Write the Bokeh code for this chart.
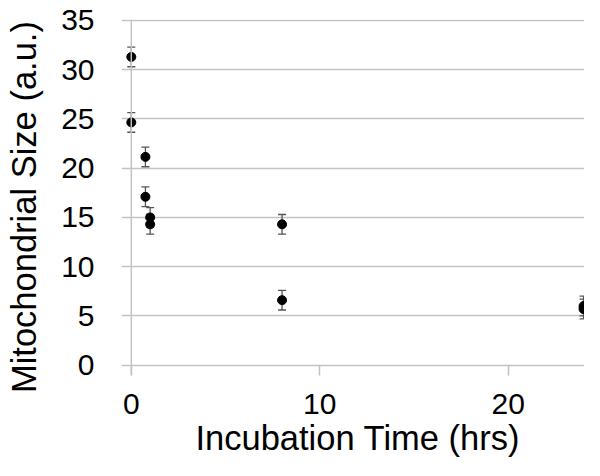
from bokeh.plotting import figure
from bokeh.models import Range1d, FixedTicker, ColumnDataSource, Whisker, TeeHead, Span
from bokeh.embed import file_html
from bokeh.resources import INLINE

# Data
hours = [0, 0, 0.75, 0.75, 1, 1, 8, 8, 24, 24]
size = [31.3, 24.65, 21.15, 17.1, 15.0, 14.3, 14.3, 6.6, 6.0, 5.7]
err = [1.0, 1.0, 1.0, 1.0, 1.0, 1.0, 1.0, 1.0, 1.0, 1.0]
x_ticks = [0, 10, 20]
y_ticks = [0, 5, 10, 15, 20, 25, 30, 35]
x_title = "Incubation Time (hrs)"
y_title = "Mitochondrial Size (a.u.)"

FONT = "Liberation Sans"
GRID = "#c3c3c3"
NBSP = "\u00a0"

p = figure(width=584, height=460, output_backend="svg", toolbar_location=None,
           x_range=Range1d(-0.52, 24.05), y_range=Range1d(-1.05, 35.1),
           min_border_left=121, min_border_right=0, min_border_top=19, min_border_bottom=85)
p.outline_line_color = None
p.background_fill_color = "white"
p.border_fill_color = "white"

# grid
p.xgrid.visible = False
p.ygrid.ticker = FixedTicker(ticks=y_ticks)
p.ygrid.grid_line_color = GRID
p.ygrid.grid_line_width = 1.5

# y axis
p.yaxis.ticker = FixedTicker(ticks=y_ticks)
p.yaxis.axis_line_color = None
p.yaxis.major_tick_line_color = None
p.yaxis.minor_tick_line_color = None
p.yaxis.major_tick_out = 0
p.yaxis.major_tick_in = 0
p.yaxis.major_label_standoff = 27
p.yaxis.major_label_text_font = FONT
p.yaxis.major_label_text_font_size = "30px"
p.yaxis.major_label_text_color = "black"
# trailing no-break spaces shift the centred title slightly downwards, as in the reference
p.yaxis.axis_label = y_title + NBSP * 2
p.yaxis.axis_label_text_font = FONT
p.yaxis.axis_label_text_font_size = "34.5px"
p.yaxis.axis_label_text_font_style = "normal"
p.yaxis.axis_label_text_color = "black"
p.yaxis.axis_label_standoff = 15

# x axis
p.xaxis.ticker = FixedTicker(ticks=x_ticks)
p.xaxis.axis_line_color = None
p.xaxis.major_tick_line_color = GRID
p.xaxis.major_tick_line_width = 1.5
p.xaxis.minor_tick_line_color = None
p.xaxis.major_tick_out = 0
p.xaxis.major_tick_in = 10
p.xaxis.major_label_standoff = 18
p.xaxis.major_label_text_font = FONT
p.xaxis.major_label_text_font_size = "30px"
p.xaxis.major_label_text_color = "black"
p.xaxis.axis_label = NBSP + x_title
p.xaxis.axis_label_text_font = FONT
p.xaxis.axis_label_text_font_size = "34.5px"
p.xaxis.axis_label_text_font_style = "normal"
p.xaxis.axis_label_text_color = "black"
p.xaxis.axis_label_standoff = 2

# vertical axis line at x = 0
p.add_layout(Span(location=0, dimension="height", line_color=GRID, line_width=1.5))

src = ColumnDataSource(data=dict(
    x=hours, y=size,
    upper=[v + e for v, e in zip(size, err)],
    lower=[v - e for v, e in zip(size, err)],
))

ERR = "#555555"
w = Whisker(source=src, base="x", upper="upper", lower="lower",
            line_color=ERR, line_width=1.3,
            upper_head=TeeHead(size=8, line_color=ERR, line_width=1.3),
            lower_head=TeeHead(size=8, line_color=ERR, line_width=1.3))
p.add_layout(w)

p.scatter("x", "y", source=src, size=9, marker="circle",
          fill_color="black", line_color="black")

open("out.html", "w").write(file_html(p, INLINE))
